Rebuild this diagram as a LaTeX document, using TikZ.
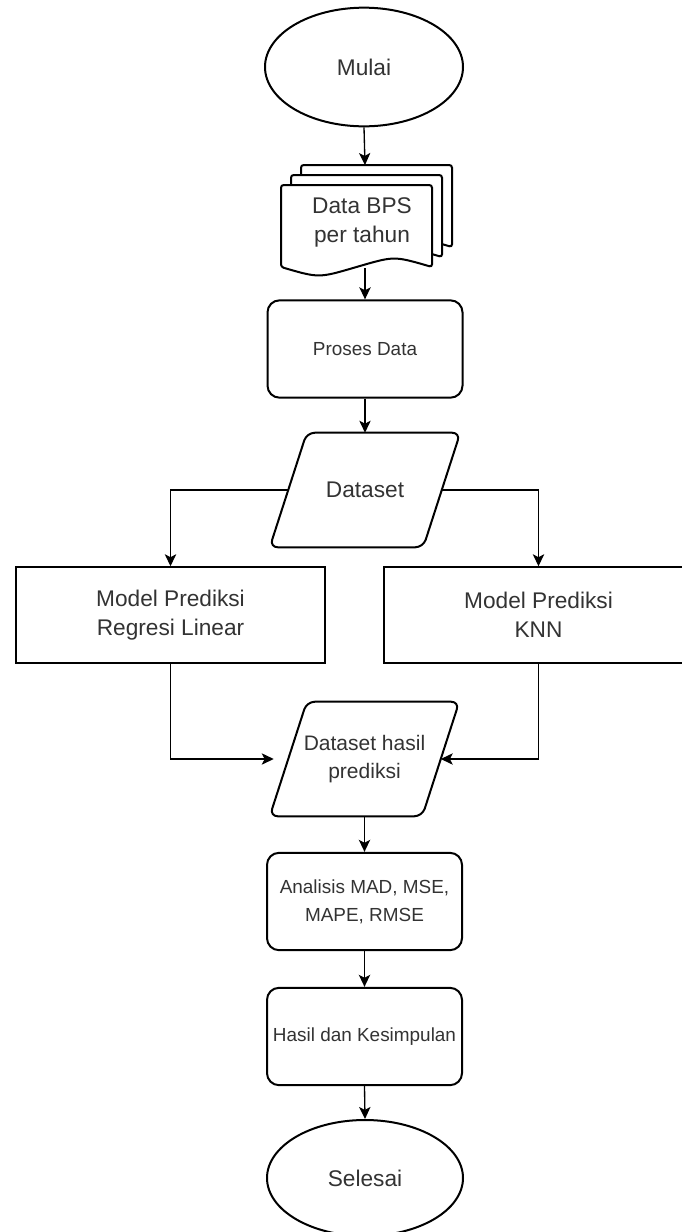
\documentclass[tikz,border=0pt]{standalone}
\usepackage{fontspec}
\setmainfont{Liberation Sans}
\usetikzlibrary{shapes.geometric,arrows.meta,calc}
\begin{document}
\begin{tikzpicture}[x=0.75pt,y=-0.75pt,
  txt/.style={text=black!80, align=center, inner sep=0pt},
  big/.style={font=\fontsize{17}{22}\selectfont},
  mid/.style={font=\fontsize{15.75}{21}\selectfont},
  small/.style={font=\fontsize{14.2}{21}\selectfont},
  bord/.style={draw=black, line width=1.5pt},
  rbox/.style={txt, bord, rounded corners=9pt, minimum width=146.25pt, minimum height=73pt},
  mbox/.style={txt, big, draw=black, line width=1.1pt, minimum width=231.75pt, minimum height=72pt},
  term/.style={txt, big, bord, ellipse, minimum width=148.5pt, minimum height=89pt},
  conn/.style={draw=black, line width=1pt, -{Stealth[length=9pt,width=8.5pt,inset=2.2pt]}},
  line/.style={draw=black, line width=1pt},
  pg/.style={bord, fill=white, rounded corners=2pt}
]
\clip (0,0) rectangle (682,1232);
\fill[white] (0,0) rectangle (682,1232);

% start
\node[term] (mulai) at (364,67) {Mulai};

% document stack
\draw[pg] (301,247) -- (301,165) -- (452,165) -- (452,247) .. controls (414.25,236) .. (376.5,247) .. controls (338.75,258) .. (301,247) -- cycle;
\draw[pg] (291,257) -- (291,175) -- (442,175) -- (442,257) .. controls (404.25,246) .. (366.5,257) .. controls (328.75,268) .. (291,257) -- cycle;
\draw[pg] (281,267) -- (281,185) -- (432,185) -- (432,267) .. controls (394.25,256) .. (356.5,267) .. controls (318.75,278) .. (281,267) -- cycle;
\node[txt, big, font=\fontsize{17}{21.75}\selectfont] (doc) at (362,222) {Data BPS\\per tahun};
\coordinate (dtop) at (365,165);
\coordinate (dbot) at (365,268);

% process
\node[rbox, small] (proses) at (365,349) {Proses Data};

% dataset parallelogram
\node[txt, big, minimum width=142.5pt, minimum height=85.5pt] (ds) at (365,490) {Dataset};
\draw[bord, rounded corners=6pt] (ds.south west) -- ($(ds.north west)+(37,0)$) -- (ds.north east) -- ($(ds.south east)-(37,0)$) -- cycle;
\coordinate (dsL) at ($(ds.west)+(18.5,0)$);
\coordinate (dsR) at ($(ds.east)-(18.5,0)$);

% models
\node[mbox] (lin) at (170.5,615) {Model Prediksi\\Regresi Linear};
\node[mbox] (knn) at (538.5,615) {Model Prediksi\\KNN};

% dataset hasil prediksi
\node[txt, mid, minimum width=141.75pt, minimum height=85.5pt] (hp) at (364.5,759) {Dataset hasil\\prediksi};
\draw[bord, rounded corners=6pt] (hp.south west) -- ($(hp.north west)+(37,0)$) -- (hp.north east) -- ($(hp.south east)-(37,0)$) -- cycle;
\coordinate (hpL) at ($(hp.west)+(4,0)$);
\coordinate (hpR) at ($(hp.east)-(18.5,0)$);

% analysis & conclusion
\node[rbox, small] (ana) at (364.5,901.5) {Analisis MAD, MSE,\\MAPE, RMSE};
\node[rbox, small] (has) at (364.5,1036.5) {Hasil dan Kesimpulan};

% end
\node[term, minimum width=147pt, minimum height=87pt] (sel) at (365,1178) {Selesai};

% connectors
\draw[conn] (mulai.south) -- (dtop);
\draw[conn] (dbot) -- (proses.north);
\draw[conn] (proses.south) -- (ds.north);
\draw[conn] (dsL) -| (lin.north);
\draw[conn] (dsR) -| (knn.north);
\draw[conn] (lin.south) |- (hpL);
\draw[conn] (knn.south) |- (hpR);
\draw[conn] (hp.south) -- (ana.north);
\draw[conn] (ana.south) -- (has.north);
\draw[conn] (has.south) -- (sel.north);
\end{tikzpicture}
\end{document}
